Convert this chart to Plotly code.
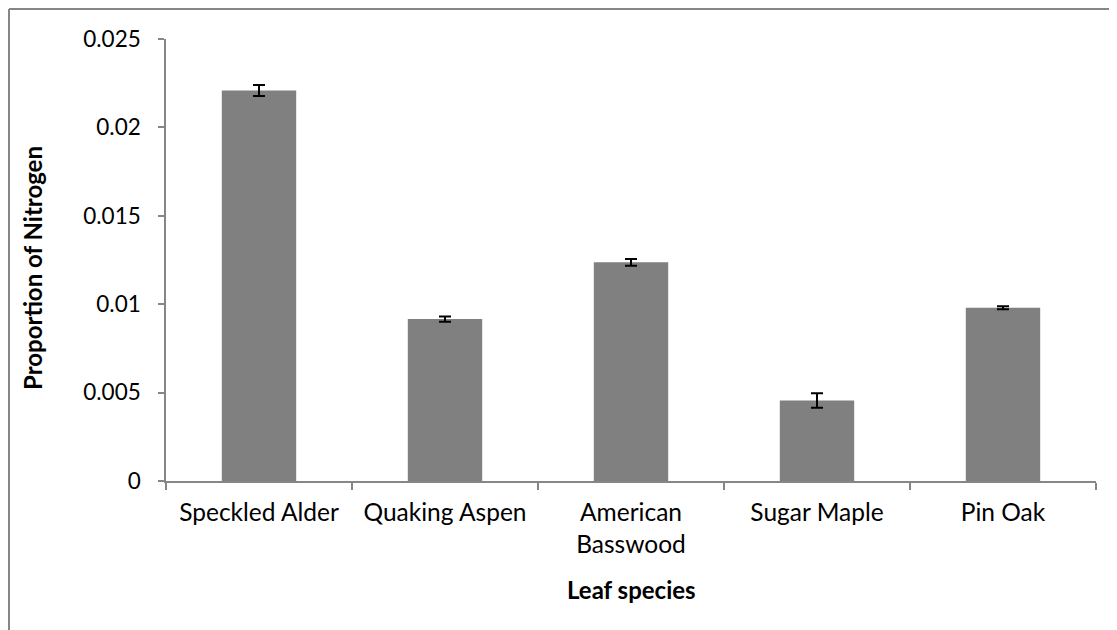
import plotly.graph_objects as go

categories = ["Speckled Alder", "Quaking Aspen", "American<br>Basswood", "Sugar Maple", "Pin Oak"]
values = [0.02209, 0.00916, 0.01237, 0.00456, 0.00980]
errors = [0.00031, 0.00015, 0.00019, 0.00041, 0.00008]
y_ticks = [0, 0.005, 0.01, 0.015, 0.02, 0.025]
y_tick_labels = ["0", "0.005", "0.01", "0.015", "0.02", "0.025"]

FONT = "Lato"
OFF = 8  # page body margin
W, H = 1117 - OFF, 630 - OFF
L, R, T, B = 166 - OFF, 21, 39 - OFF, 149
pw, ph = W - L - R, H - T - B

fig = go.Figure(go.Bar(
    x=categories, y=values,
    marker=dict(color="#808080", line=dict(width=0)),
    error_y=dict(type="data", array=errors, visible=True, color="#000000", thickness=2, width=6),
))

fig.update_layout(
    width=W, height=H,
    margin=dict(l=L, r=R, t=T, b=B, autoexpand=False),
    paper_bgcolor="white", plot_bgcolor="white",
    bargap=0.6,
    showlegend=False,
    font=dict(family=FONT, size=22, color="#000000"),
    xaxis=dict(
        type="category", showline=True, linecolor="#868686", linewidth=1.5,
        ticks="outside", tickson="boundaries", ticklen=7, tickcolor="#868686", tickwidth=1.5,
        ticklabelstandoff=9,
        showgrid=False, automargin=False,
        tickfont=dict(family=FONT, size=24.5),
    ),
    yaxis=dict(
        range=[0, 0.025], tickvals=y_ticks, ticktext=y_tick_labels,
        showline=True, linecolor="#868686", linewidth=1.5,
        ticks="outside", ticklen=6, tickcolor="#868686", tickwidth=1.5,
        ticklabelstandoff=13,
        showgrid=False, zeroline=False, automargin=False,
        tickfont=dict(family=FONT, size=22.5),
    ),
)

# axis titles
fig.add_annotation(text="<b>Proportion of Nitrogen</b>", xref="paper", yref="paper",
                   x=(32 - OFF - L) / pw, y=(H - B - (268 - OFF)) / ph,
                   xanchor="center", yanchor="middle", textangle=-90, showarrow=False,
                   font=dict(family=FONT, size=24))
fig.add_annotation(text="<b>Leaf species</b>", xref="paper", yref="paper",
                   x=0.5, y=(H - B - (589 - OFF)) / ph,
                   xanchor="center", yanchor="middle", showarrow=False,
                   font=dict(family=FONT, size=24))

# chart border (left and top edges visible)
bx = (1 - L) / pw
by = (H - B - 1) / ph
fig.add_shape(type="line", xref="paper", yref="paper",
              x0=bx, x1=bx, y0=by, y1=-0.5,
              line=dict(color="#868686", width=2))
fig.add_shape(type="line", xref="paper", yref="paper",
              x0=bx, x1=1.2, y0=by, y1=by,
              line=dict(color="#868686", width=2))

fig.write_html("out.html")
